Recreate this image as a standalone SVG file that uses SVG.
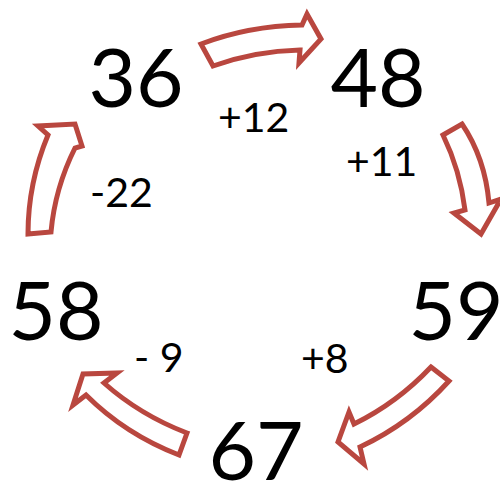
<svg xmlns="http://www.w3.org/2000/svg" width="500" height="485" viewBox="0 0 500 485">
<style>
.big{font-family:Lato,"Open Sans","Liberation Sans",sans-serif;font-size:82px;fill:#000;text-anchor:middle}
.small{font-family:Lato,"Open Sans","Liberation Sans",sans-serif;font-size:41px;fill:#000}
.arr{fill:#fff;stroke:#b9473f;stroke-width:5;stroke-linejoin:miter}
</style>
<rect width="500" height="485" fill="#fff"/>
<g id="connectors">
<path class="arr" d="M201,44 Q248,26 302,25 L307,14 L321,39 L299,63 L300,50 Q255,51 213,66 Z"/>
<path class="arr" d="M443,135 L462,124 Q485,158 489,203 L501,199 L481,234 L454,213 L465,210 Q460,170 443,135 Z"/>
<path class="arr" d="M431,367 L449,381 Q411,423 360,447 L364,464 L338,442 L349,412 L354,424 Q397,403 431,367 Z"/>
<path class="arr" d="M187,433 L179,455 Q125,434 86,395 L73,405 L83,374 L117,373 L104,383 Q140,415 187,433 Z"/>
<path class="arr" d="M28,234 L51,232 Q55,188 75,148 L82,146 L75,124 L38,126 L48,135 Q28,183 28,234 Z"/>
</g>
<g id="n36"><text class="big" x="136" y="107">36</text></g>
<g id="n48"><text class="big" x="378" y="107">48</text></g>
<g id="n59"><text class="big" x="456" y="340">59</text></g>
<g id="n67"><text class="big" x="256" y="480">67</text></g>
<g id="n58"><text class="big" x="56" y="340">58</text></g>
<g id="l12"><text class="small" x="218" y="132">+12</text></g>
<g id="l11"><text class="small" x="346" y="176">+11</text></g>
<g id="l8"><text class="small" x="301" y="373">+8</text></g>
<g id="l9"><text class="small" x="134" y="372">- 9</text></g>
<g id="l22"><text class="small" x="90" y="207">-22</text></g>
</svg>
